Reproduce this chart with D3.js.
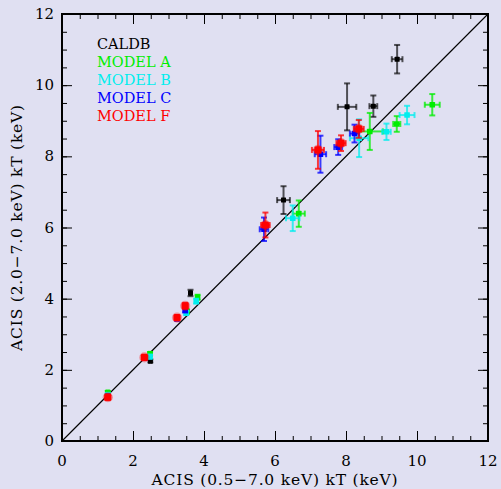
<!DOCTYPE html>
<html>
<head>
<meta charset="utf-8">
<script src="https://cdn.jsdelivr.net/npm/d3@7/dist/d3.min.js"></script>
<style>
  html, body { margin: 0; padding: 0; background: #e0e0f2; }
  svg { display: block; }
  text { font-family: "DejaVu Serif", "Liberation Serif", serif; }
</style>
</head>
<body>
<svg id="chart" width="501" height="489"></svg>
<script>
// Temperature pairs per calibration: x = ACIS 0.5-7.0 keV fit, y = ACIS 2.0-7.0 keV fit
const seriesNames = ["CALDB", "MODEL A", "MODEL B", "MODEL C", "MODEL F"];
const seriesColors = ["#000000", "#00ee00", "#00eeee", "#0000ff", "#ff0000"];

const caldbX    = [2.49, 3.62, 6.24, 8.03, 8.77, 9.44];
const caldbXErr = [0.03, 0.03, 0.18, 0.26, 0.11, 0.15];
const caldbY    = [2.25, 4.16, 6.77, 9.39, 9.41, 10.73];
const caldbYErr = [0.04, 0.09, 0.39, 0.66, 0.30, 0.40];

const modelAX    = [1.29, 2.48, 3.52, 3.82, 6.67, 8.67, 9.43, 10.43];
const modelAXErr = [0.03, 0.03, 0.03, 0.03, 0.17, 0.37, 0.10, 0.21];
const modelAY    = [1.36, 2.45, 3.64, 4.04, 6.39, 8.70, 8.91, 9.45];
const modelAYErr = [0.04, 0.05, 0.06, 0.07, 0.37, 0.52, 0.22, 0.30];

const modelBX    = [1.29, 2.48, 3.50, 3.78, 6.50, 8.37, 9.14, 9.72];
const modelBXErr = [0.03, 0.03, 0.03, 0.03, 0.19, 0.26, 0.12, 0.21];
const modelBY    = [1.30, 2.37, 3.60, 3.93, 6.26, 8.51, 8.69, 9.16];
const modelBYErr = [0.04, 0.05, 0.06, 0.07, 0.36, 0.53, 0.23, 0.26];

const modelCX    = [1.29, 2.33, 3.24, 3.47, 5.69, 7.28, 7.78, 8.24];
const modelCXErr = [0.03, 0.03, 0.04, 0.04, 0.12, 0.16, 0.11, 0.13];
const modelCY    = [1.25, 2.33, 3.44, 3.68, 5.95, 8.06, 8.26, 8.64];
const modelCYErr = [0.05, 0.05, 0.05, 0.07, 0.33, 0.52, 0.22, 0.25];

const modelFX    = [1.29, 2.32, 3.24, 3.47, 5.73, 7.21, 7.86, 8.36];
const modelFXErr = [0.04, 0.04, 0.05, 0.05, 0.12, 0.17, 0.13, 0.14];
const modelFY    = [1.23, 2.35, 3.47, 3.80, 6.07, 8.18, 8.37, 8.77];
const modelFYErr = [0.08, 0.05, 0.05, 0.08, 0.35, 0.53, 0.22, 0.25];

const majorTicks = [0, 2, 4, 6, 8, 10, 12];
const minorTicks = d3.range(0, 12.01, 0.5);

const xTitle = "ACIS (0.5\u22127.0 keV) kT (keV)";
const yTitle = "ACIS (2.0\u22127.0 keV) kT (keV)";

const series = [
  {x: caldbX, xe: caldbXErr, y: caldbY, ye: caldbYErr},
  {x: modelAX, xe: modelAXErr, y: modelAY, ye: modelAYErr},
  {x: modelBX, xe: modelBXErr, y: modelBY, ye: modelBYErr},
  {x: modelCX, xe: modelCXErr, y: modelCY, ye: modelCYErr},
  {x: modelFX, xe: modelFXErr, y: modelFY, ye: modelFYErr}
].map((s, i) => ({
  name: seriesNames[i],
  color: seriesColors[i],
  points: s.x.map((v, j) => ({x: v, xe: s.xe[j], y: s.y[j], ye: s.ye[j]}))
}));

const plotL = 62, plotR = 488, plotT = 14, plotB = 441;
const x = d3.scaleLinear().domain([0, 12]).range([plotL, plotR]);
const y = d3.scaleLinear().domain([0, 12]).range([plotB, plotT]);

const svg = d3.select("#chart");

// one-to-one reference line
svg.append("line")
  .attr("x1", x(0)).attr("y1", y(0))
  .attr("x2", x(12)).attr("y2", y(12))
  .attr("stroke", "#000").attr("stroke-width", 1.1);

// inward ticks on all four sides
function tickAxis(gen, transform) {
  [[minorTicks, 5], [majorTicks, 10]].forEach(([vals, len]) => {
    svg.append("g")
      .attr("transform", transform)
      .call(gen.tickValues(vals).tickSize(len).tickFormat(""))
      .call(g => g.select(".domain").remove())
      .call(g => g.selectAll("line").attr("stroke", "#000").attr("stroke-width", 1));
  });
}
tickAxis(d3.axisTop(x), `translate(0,${plotB})`);
tickAxis(d3.axisBottom(x), `translate(0,${plotT})`);
tickAxis(d3.axisRight(y), `translate(${plotL},0)`);
tickAxis(d3.axisLeft(y), `translate(${plotR},0)`);

// frame
svg.append("rect")
  .attr("x", plotL).attr("y", plotT)
  .attr("width", plotR - plotL).attr("height", plotB - plotT)
  .attr("fill", "none").attr("stroke", "#000").attr("stroke-width", 2);

// tick labels
svg.append("g").selectAll("text").data(majorTicks).join("text")
  .attr("x", d => x(d)).attr("y", plotB + 25)
  .attr("text-anchor", "middle").attr("font-size", 15).attr("fill", "#000")
  .text(d => d);
svg.append("g").selectAll("text").data(majorTicks).join("text")
  .attr("x", plotL - 8).attr("y", d => y(d) + 5)
  .attr("text-anchor", "end").attr("font-size", 15).attr("fill", "#000")
  .text(d => d);

// axis titles
svg.append("text")
  .attr("x", (plotL + plotR) / 2).attr("y", 485)
  .attr("text-anchor", "middle").attr("font-size", 15.5)
  .attr("letter-spacing", 0.8)
  .text(xTitle);
svg.append("text")
  .attr("transform", `translate(22,${(plotT + plotB) / 2}) rotate(-90)`)
  .attr("text-anchor", "middle").attr("font-size", 15.5)
  .attr("letter-spacing", 0.8)
  .text(yTitle);

// error bars and markers
const cap = 3;
series.forEach((s, i) => {
  const g = svg.append("g");
  const pts = g.selectAll("g").data(s.points).join("g");
  const isRef = i === 0;
  const strokeOpacity = isRef ? 0.65 : 0.75;
  const lw = 2;
  pts.append("line")
    .attr("x1", d => x(d.x - d.xe)).attr("x2", d => x(d.x + d.xe))
    .attr("y1", d => y(d.y)).attr("y2", d => y(d.y));
  pts.append("line")
    .attr("x1", d => x(d.x)).attr("x2", d => x(d.x))
    .attr("y1", d => y(d.y - d.ye)).attr("y2", d => y(d.y + d.ye));
  // caps
  pts.append("line")
    .attr("x1", d => x(d.x) - cap).attr("x2", d => x(d.x) + cap)
    .attr("y1", d => y(d.y + d.ye)).attr("y2", d => y(d.y + d.ye));
  pts.append("line")
    .attr("x1", d => x(d.x) - cap).attr("x2", d => x(d.x) + cap)
    .attr("y1", d => y(d.y - d.ye)).attr("y2", d => y(d.y - d.ye));
  pts.append("line")
    .attr("x1", d => x(d.x - d.xe)).attr("x2", d => x(d.x - d.xe))
    .attr("y1", d => y(d.y) - cap).attr("y2", d => y(d.y) + cap);
  pts.append("line")
    .attr("x1", d => x(d.x + d.xe)).attr("x2", d => x(d.x + d.xe))
    .attr("y1", d => y(d.y) - cap).attr("y2", d => y(d.y) + cap);
  pts.selectAll("line")
    .attr("stroke", s.color).attr("stroke-width", lw)
    .attr("stroke-opacity", strokeOpacity);

  const r = i === 4 ? 3.6 : (isRef ? 2.5 : 2.8);
  if (i === 4) {
    pts.append("circle")
      .attr("cx", d => x(d.x)).attr("cy", d => y(d.y))
      .attr("r", r + 1.5).attr("fill", s.color).attr("fill-opacity", 0.35);
  }
  pts.append("rect")
    .attr("x", d => x(d.x) - r).attr("y", d => y(d.y) - r)
    .attr("width", 2 * r).attr("height", 2 * r)
    .attr("rx", i === 4 ? 1.5 : 0.5)
    .attr("fill", s.color);
});

// legend
svg.append("g").selectAll("text").data(series).join("text")
  .attr("x", 97).attr("y", (d, i) => 49 + i * 18)
  .attr("font-size", 14.5)
  .attr("fill", d => d.color)
  .text(d => d.name);
</script>
</body>
</html>
